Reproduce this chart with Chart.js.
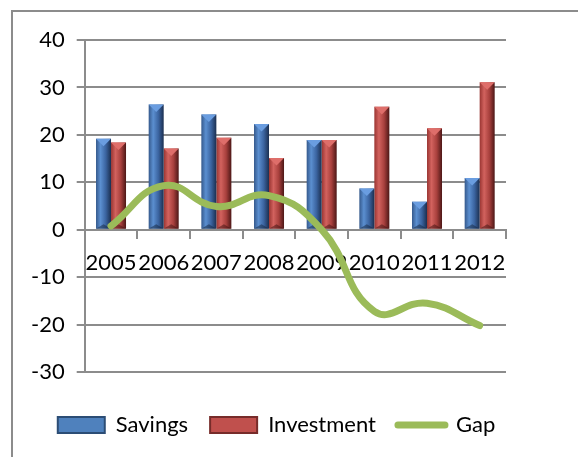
<!DOCTYPE html>
<html>
<head>
<meta charset="utf-8">
<script src="https://cdn.jsdelivr.net/npm/chart.js@4.4.1/dist/chart.umd.min.js"></script>
<style>
  html, body { margin: 0; padding: 0; background: #fff; }
  #wrap { position: relative; width: 578px; height: 457px; overflow: hidden; }
  #frame { position: absolute; left: 11px; top: 10px; width: 620px; height: 520px; border: 2px solid #8c8c8c; }
  canvas { position: absolute; left: 0; top: 0; }
</style>
</head>
<body>
<div id="wrap">
  <div id="frame"></div>
  <canvas id="chart" width="578" height="457"></canvas>
</div>
<script>
const years = ['2005','2006','2007','2008','2009','2010','2011','2012'];
const savings = [19.2, 26.4, 24.3, 22.3, 18.9, 8.7, 5.9, 10.9];
const investment = [18.4, 17.1, 19.4, 15.1, 18.9, 25.9, 21.4, 31.1];
const gap = [0.8, 9.3, 4.9, 7.2, 0.0, -17.2, -15.5, -20.2];
const yTicks = [-30, -20, -10, 0, 10, 20, 30, 40];

const CAT_PCT = 0.57;
const blueStops = ['#35598c', '#5b8fd0', '#3b64a0', '#1b2f50'];
const redStops = ['#9a3532', '#d2625e', '#a8403d', '#4c1716'];
const gridGray = '#8c8c8c';
const font = { family: 'Lato', size: 22 };
const LEGEND_GAP = 20;    // extra room between plot and legend
const LEGEND_SHIFT = 14;  // legend sits a little right of centre

function barGradient(c, stops) {
  const chart = c.chart;
  const x = chart.scales.x;
  if (!x || c.dataIndex === undefined || !x.width) return stops[1];
  const slot = x.width / years.length;
  const group = slot * CAT_PCT;
  const bw = group / 2;
  const center = x.getPixelForValue(c.dataIndex);
  const left = center - group / 2 + c.datasetIndex * bw;
  const g = chart.ctx.createLinearGradient(left, 0, left + bw, 0);
  g.addColorStop(0, stops[0]);
  g.addColorStop(0.3, stops[1]);
  g.addColorStop(0.65, stops[2]);
  g.addColorStop(1, stops[3]);
  return g;
}

// light bevel on top of each bar
const bevel = {
  id: 'bevel',
  afterDatasetDraw(chart, args) {
    if (args.meta.type !== 'bar') return;
    const ctx = chart.ctx;
    const light = args.index === 0 ? '#6a9de0' : '#de6e6a';
    const dark = args.index === 0 ? 'rgba(20,35,60,0.5)' : 'rgba(60,15,15,0.5)';
    args.meta.data.forEach(bar => {
      const l = bar.x - bar.width / 2, r = bar.x + bar.width / 2;
      const h = Math.min(bar.width / 2, Math.abs(bar.base - bar.y));
      ctx.save();
      ctx.fillStyle = light;
      ctx.beginPath();
      ctx.moveTo(l, bar.y);
      ctx.lineTo(r, bar.y);
      ctx.lineTo(bar.x, bar.y + h);
      ctx.closePath();
      ctx.fill();
      ctx.fillStyle = dark;
      ctx.beginPath();
      ctx.moveTo(l, bar.base);
      ctx.lineTo(r, bar.base);
      ctx.lineTo(bar.x, bar.base - h * 0.6);
      ctx.closePath();
      ctx.fill();
      ctx.restore();
    });
  }
};

// keep the legend low while leaving a gap above it
const legendSpace = {
  id: 'legendSpace',
  afterInit(chart) {
    const legend = chart.legend;
    const orig = legend.fit.bind(legend);
    legend.fit = function () { orig(); this.height += LEGEND_GAP; };
  },
  afterLayout(chart) {
    const lg = chart.legend;
    lg.top += LEGEND_GAP;
    lg.left += LEGEND_SHIFT;
    lg.right += LEGEND_SHIFT;
  }
};

new Chart(document.getElementById('chart'), {
  type: 'bar',
  data: {
    labels: years,
    datasets: [
      {
        label: 'Savings',
        data: savings,
        backgroundColor: c => barGradient(c, blueStops),
        categoryPercentage: CAT_PCT,
        barPercentage: 1,
        order: 1
      },
      {
        label: 'Investment',
        data: investment,
        backgroundColor: c => barGradient(c, redStops),
        categoryPercentage: CAT_PCT,
        barPercentage: 1,
        order: 1
      },
      {
        type: 'line',
        label: 'Gap',
        data: gap,
        borderColor: '#9bbb59',
        borderWidth: 7,
        borderCapStyle: 'round',
        tension: 0.45,
        pointRadius: 0,
        order: 0
      }
    ]
  },
  options: {
    responsive: false,
    animation: false,
    layout: { padding: { left: 19, right: 72, top: 40, bottom: 11 } },
    plugins: {
      tooltip: { enabled: false },
      legend: {
        position: 'bottom',
        labels: {
          font: font,
          color: '#000',
          usePointStyle: true,
          pointStyleWidth: 47,
          boxHeight: 16,
          padding: 22,
          generateLabels: () => [
            { text: 'Savings', datasetIndex: 0, pointStyle: 'rect', fillStyle: '#4f81bd', strokeStyle: '#2c4d75', lineWidth: 2 },
            { text: 'Investment', datasetIndex: 1, pointStyle: 'rect', fillStyle: '#c0504d', strokeStyle: '#772c2a', lineWidth: 2 },
            { text: 'Gap', datasetIndex: 2, pointStyle: 'line', strokeStyle: '#9bbb59', lineWidth: 7, lineCap: 'round' }
          ]
        }
      }
    },
    scales: {
      x: {
        position: { y: 0 },
        grid: { drawOnChartArea: false, drawTicks: true, tickLength: 8, color: gridGray, lineWidth: 2, offset: true },
        border: { color: gridGray, width: 2 },
        ticks: { font: font, color: '#000', autoSkip: false, maxRotation: 0, padding: 12 }
      },
      y: {
        min: -30,
        max: 40,
        afterBuildTicks: axis => { axis.ticks = yTicks.map(v => ({ value: v })); },
        grid: { color: gridGray, lineWidth: 2, tickLength: 8 },
        border: { color: gridGray, width: 2 },
        ticks: { font: font, color: '#000', padding: 12 }
      }
    }
  },
  plugins: [bevel, legendSpace]
});
</script>
</body>
</html>
